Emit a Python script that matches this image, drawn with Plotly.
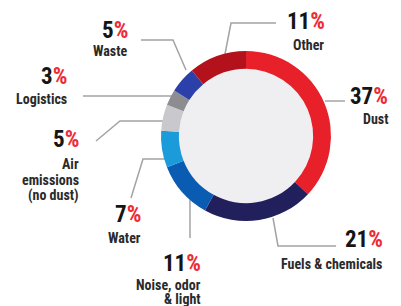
import plotly.graph_objects as go

# ---- data ----
categories = ["Dust", "Fuels & chemicals", "Noise, odor<br>& light", "Water",
              "Air<br>emissions<br>(no dust)", "Logistics", "Waste", "Other"]
values = [37, 21, 11, 7, 5, 3, 5, 11]

# ---- style ----
colors = ["#e8202a", "#211f5c", "#0a5cb2", "#1b9bd9", "#c9c9cd", "#8d8d91", "#2b40a8", "#b3121c"]
W, H = 401, 306
CX, CY, R = 238, 128, 85
HOLE = 0.79
RED = "#ee2a36"
FONT = "Roboto Condensed, sans-serif"
NUM_SIZE, LAB_SIZE = 23, 14
NUM_OFF, LAB_OFF = -5.5, -5
X_SHIFT = -6

# label placement (px): number right-x, number center-y, label right-x, first label line center-y, line gap
label_pos = [
    (387, 94, 387, 116, 15),
    (382, 237, 381, 261, 15),
    (200, 261, 200, 282, 13.5),
    (140, 212, 140, 235, 15),
    (78, 137, 78, 161, 15.5),
    (66, 74, 66, 96, 15),
    (127, 28, 127, 48, 15),
    (324, 19, 323, 42, 15),
]
# leader lines (px polylines)
leaders = [
    [(317, 93), (337, 93)],
    [(265, 210), (270, 238), (328, 238)],
    [(182, 184), (182, 230)],
    [(123, 190), (135, 151), (158, 151)],
    [(88, 133), (112, 113), (158, 113)],
    [(75, 88), (165, 88)],
    [(133, 32), (165, 32), (178, 62)],
    [(268, 15), (223, 15), (217, 46)],
]


def X(px):
    return px / W


def Y(py):
    return 1 - py / H


fig = go.Figure(go.Pie(
    labels=categories,
    values=values,
    sort=False,
    direction="clockwise",
    rotation=0,
    hole=HOLE,
    marker=dict(colors=colors, line=dict(width=0)),
    textinfo="none",
    hoverinfo="label+percent",
    showlegend=False,
    domain=dict(x=[X(CX - R), X(CX + R)], y=[Y(CY + R), Y(CY - R)]),
))

shapes = []
ri = R * HOLE + 1
shapes.append(dict(type="circle", xref="paper", yref="paper",
                   x0=X(CX - ri), x1=X(CX + ri), y0=Y(CY + ri), y1=Y(CY - ri),
                   fillcolor="#efeff2", line=dict(width=0), layer="below"))
for pts in leaders:
    path = "M " + " L ".join(f"{X(px)},{Y(py)}" for px, py in pts)
    shapes.append(dict(type="path", xref="paper", yref="paper", path=path,
                       line=dict(color="#a3a3a3", width=1.5), layer="below"))

annotations = []
for cat, v, (nx, ny, lx, ly, gap) in zip(categories, values, label_pos):
    annotations.append(dict(
        xref="paper", yref="paper", x=X(nx + X_SHIFT), y=Y(ny + NUM_OFF),
        xanchor="right", yanchor="middle",
        text=f"<b>{v}<span style='color:{RED}'>%</span></b>", showarrow=False,
        font=dict(family=FONT, size=NUM_SIZE, color="#151515"), align="right", borderpad=0))
    for k, line in enumerate(cat.split("<br>")):
        annotations.append(dict(
            xref="paper", yref="paper", x=X(lx + X_SHIFT), y=Y(ly + k * gap + LAB_OFF),
            xanchor="right", yanchor="middle",
            text=f"<b>{line}</b>", showarrow=False,
            font=dict(family=FONT, size=LAB_SIZE, color="#2a2a2a"), align="right", borderpad=0))

fig.update_layout(
    width=W, height=H,
    margin=dict(l=0, r=0, t=0, b=0),
    paper_bgcolor="white", plot_bgcolor="white",
    shapes=shapes, annotations=annotations,
)

fig.write_html("out.html")
